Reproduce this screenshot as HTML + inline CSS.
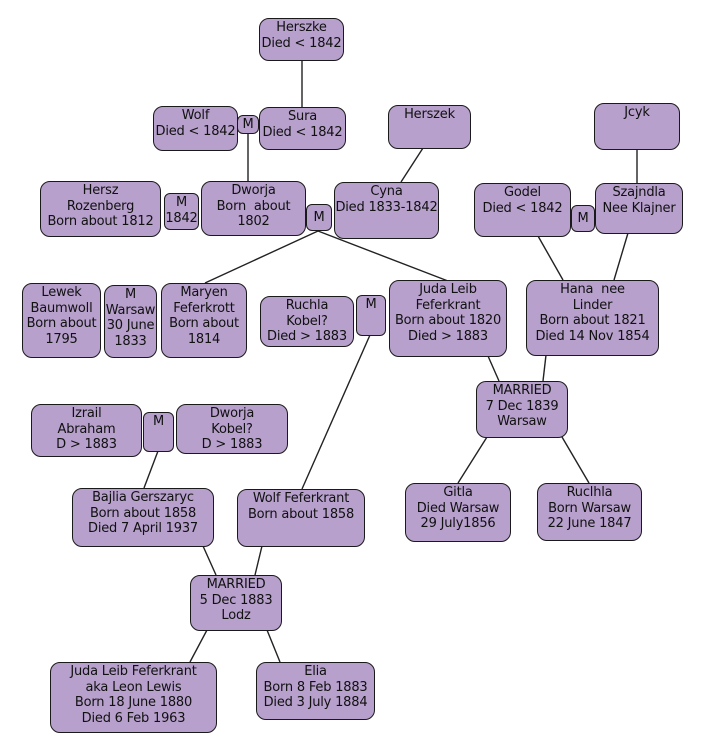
<!DOCTYPE html>
<html><head><meta charset="utf-8"><style>
body{margin:0;width:707px;height:756px;background:#fff;position:relative;overflow:hidden;font-family:"DejaVu Sans","Liberation Sans",sans-serif;}
.b{position:absolute;box-sizing:border-box;background:#b7a0cc;border:1.6px solid #1a1a1a;border-radius:10px;text-align:center;font-size:13px;letter-spacing:-0.2px;line-height:15.5px;color:#111;padding-top:1px;white-space:nowrap;}
.s{border-radius:6px;}
svg{position:absolute;left:0;top:0}
</style></head><body>
<svg width="707" height="756"><g stroke="#222" stroke-width="1.4">
<line x1="302" y1="60" x2="302" y2="107"/>
<line x1="248" y1="133" x2="248" y2="181"/>
<line x1="423" y1="148" x2="401" y2="182"/>
<line x1="318" y1="231" x2="205" y2="283"/>
<line x1="318" y1="231" x2="448" y2="281"/>
<line x1="637" y1="149" x2="637" y2="183"/>
<line x1="538" y1="236" x2="563" y2="280"/>
<line x1="628" y1="233" x2="614" y2="280"/>
<line x1="488" y1="356" x2="499" y2="381"/>
<line x1="546" y1="355" x2="543" y2="381"/>
<line x1="487" y1="437" x2="458" y2="483"/>
<line x1="562" y1="437" x2="589" y2="483"/>
<line x1="158" y1="451" x2="144" y2="488"/>
<line x1="370" y1="335" x2="302" y2="489"/>
<line x1="203" y1="546" x2="216" y2="575"/>
<line x1="262" y1="546" x2="255" y2="575"/>
<line x1="207" y1="630" x2="190" y2="662"/>
<line x1="267" y1="630" x2="280" y2="662"/>
</g></svg>
<div class="b" style="left:259px;top:18px;width:85px;height:43px">Herszke<br>Died &lt; 1842</div>
<div class="b" style="left:153px;top:106px;width:85px;height:45px">Wolf<br>Died &lt; 1842</div>
<div class="b s" style="left:237px;top:115px;width:22px;height:19px">M</div>
<div class="b" style="left:259px;top:107px;width:87px;height:43px">Sura<br>Died &lt; 1842</div>
<div class="b" style="left:388px;top:105px;width:83px;height:44px">Herszek</div>
<div class="b" style="left:594px;top:103px;width:86px;height:47px">Jcyk</div>
<div class="b" style="left:40px;top:181px;width:121px;height:56px">Hersz<br>Rozenberg<br>Born about 1812</div>
<div class="b s" style="left:164px;top:193px;width:35px;height:37px">M<br>1842</div>
<div class="b" style="left:201px;top:181px;width:105px;height:55px">Dworja<br>Born&nbsp; about<br>1802</div>
<div class="b s" style="left:306px;top:204px;width:26px;height:27px;padding-top:5px">M</div>
<div class="b" style="left:334px;top:182px;width:105px;height:57px">Cyna<br>Died 1833-1842</div>
<div class="b" style="left:474px;top:183px;width:97px;height:54px">Godel<br>Died &lt; 1842</div>
<div class="b s" style="left:571px;top:205px;width:24px;height:27px;padding-top:5px">M</div>
<div class="b" style="left:595px;top:183px;width:88px;height:51px">Szajndla<br>Nee Klajner</div>
<div class="b" style="left:22px;top:283px;width:79px;height:75px">Lewek<br>Baumwoll<br>Born about<br>1795</div>
<div class="b" style="left:104px;top:285px;width:53px;height:73px">M<br>Warsaw<br>30 June<br>1833</div>
<div class="b" style="left:161px;top:283px;width:86px;height:75px">Maryen<br>Feferkrott<br>Born about<br>1814</div>
<div class="b" style="left:260px;top:296px;width:94px;height:51px">Ruchla<br>Kobel?<br>Died &gt; 1883</div>
<div class="b s" style="left:356px;top:295px;width:30px;height:41px">M</div>
<div class="b" style="left:389px;top:280px;width:118px;height:77px">Juda Leib<br>Feferkrant<br>Born about 1820<br>Died &gt; 1883</div>
<div class="b" style="left:526px;top:280px;width:133px;height:76px">Hana&nbsp; nee<br>Linder<br>Born about 1821<br>Died 14 Nov 1854</div>
<div class="b" style="left:476px;top:381px;width:92px;height:57px">MARRIED<br>7 Dec 1839<br>Warsaw</div>
<div class="b" style="left:31px;top:404px;width:111px;height:53px">Izrail<br>Abraham<br>D &gt; 1883</div>
<div class="b s" style="left:143px;top:412px;width:31px;height:40px">M</div>
<div class="b" style="left:176px;top:404px;width:112px;height:50px">Dworja<br>Kobel?<br>D &gt; 1883</div>
<div class="b" style="left:405px;top:483px;width:106px;height:59px">Gitla<br>Died Warsaw<br>29 July1856</div>
<div class="b" style="left:537px;top:483px;width:105px;height:58px">Ruclhla<br>Born Warsaw<br>22 June 1847</div>
<div class="b" style="left:72px;top:488px;width:142px;height:59px">Bajlia Gerszaryc<br>Born about 1858<br>Died 7 April 1937</div>
<div class="b" style="left:237px;top:489px;width:128px;height:58px">Wolf Feferkrant<br>Born about 1858</div>
<div class="b" style="left:190px;top:575px;width:92px;height:56px">MARRIED<br>5 Dec 1883<br>Lodz</div>
<div class="b" style="left:50px;top:662px;width:167px;height:71px">Juda Leib Feferkrant<br>aka Leon Lewis<br>Born 18 June 1880<br>Died 6 Feb 1963</div>
<div class="b" style="left:256px;top:662px;width:119px;height:58px">Elia<br>Born 8 Feb 1883<br>Died 3 July 1884</div>
</body></html>
